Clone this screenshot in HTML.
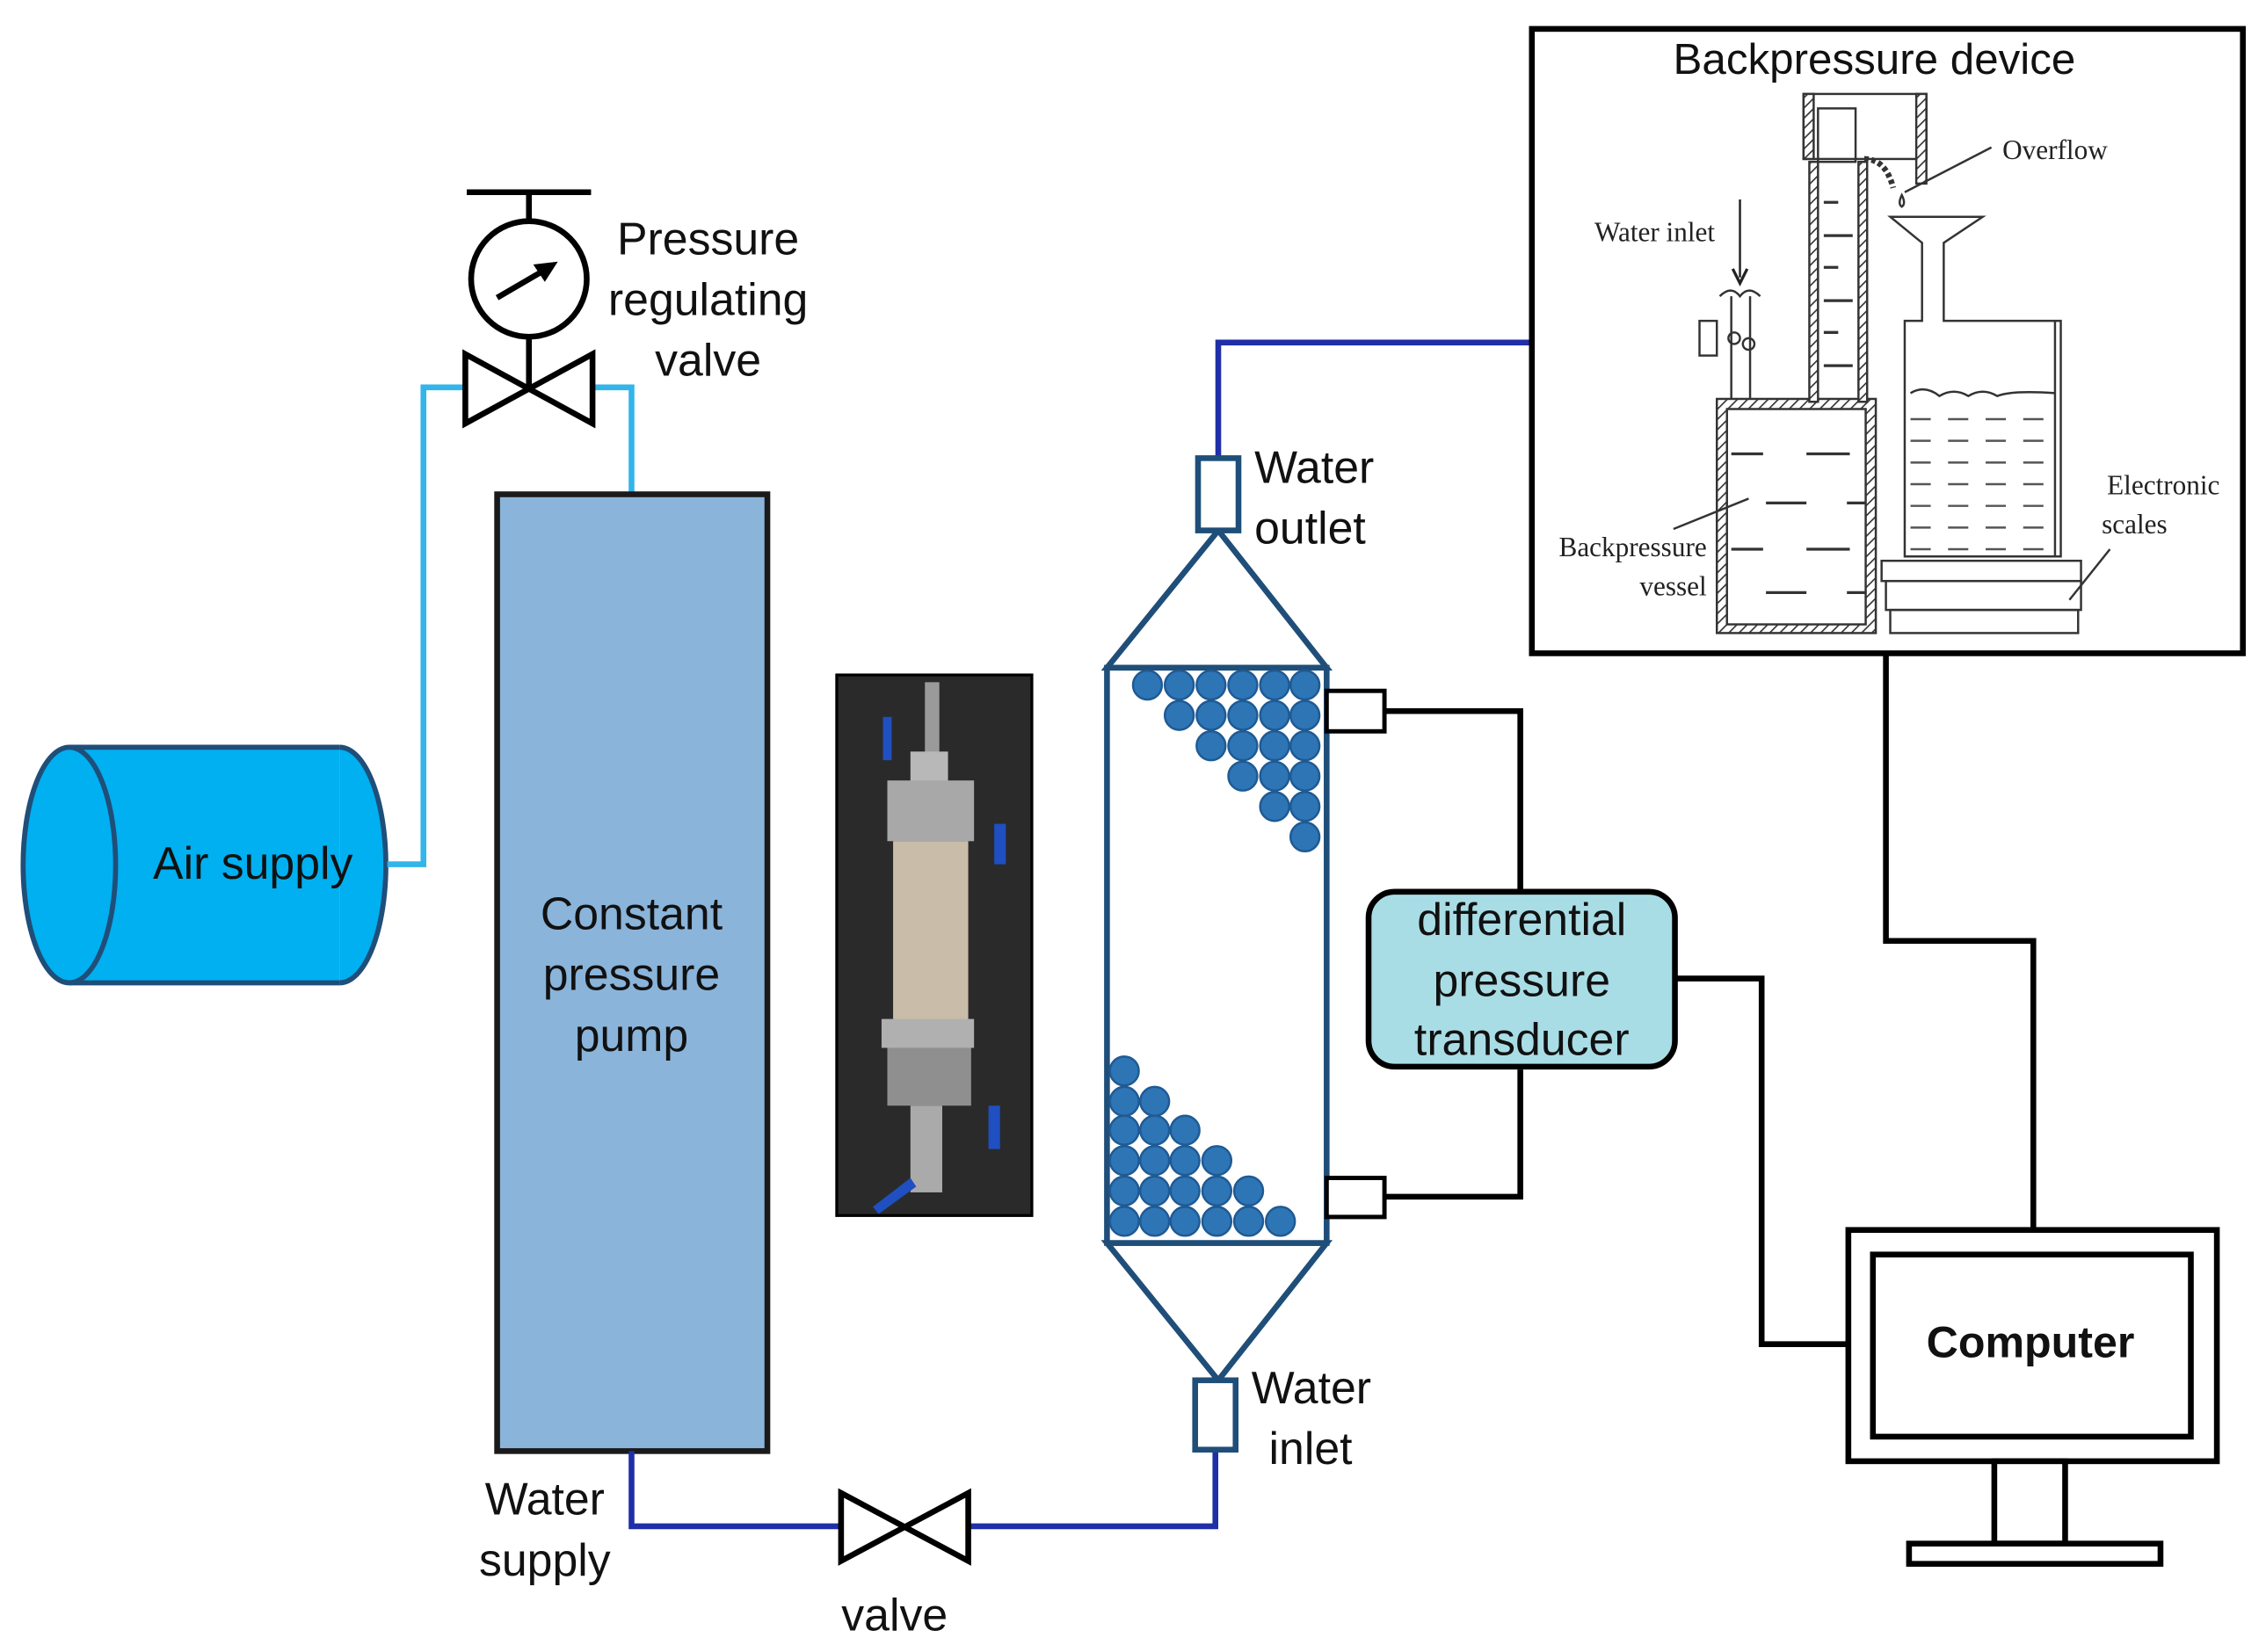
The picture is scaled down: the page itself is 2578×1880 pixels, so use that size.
<!DOCTYPE html>
<html><head><meta charset="utf-8"><style>
html,body{margin:0;padding:0;background:#fff;}
svg{display:block;}
text{font-family:"Liberation Sans",sans-serif;}
.s{font-family:"Liberation Serif",serif;font-size:19px;fill:#222;}
</style></head><body>
<svg width="2578" height="1880" viewBox="0 0 1568 1143" preserveAspectRatio="none" xmlns="http://www.w3.org/2000/svg">
<defs>
<pattern id="h" width="5" height="5" patternUnits="userSpaceOnUse" patternTransform="rotate(45)"><rect width="5" height="5" fill="#fff"/><line x1="0" y1="0" x2="0" y2="5" stroke="#333" stroke-width="2"/></pattern>
</defs>
<!-- air supply -->
<rect x="48" y="517" width="187" height="163" fill="#00b0f0"/>
<line x1="48" y1="517" x2="235" y2="517" stroke="#1f4e79" stroke-width="3.5"/>
<line x1="48" y1="680" x2="235" y2="680" stroke="#1f4e79" stroke-width="3.5"/>
<path d="M235,517 A32,81.5 0 0 1 235,680" fill="#00b0f0" stroke="#1f4e79" stroke-width="3.5"/>
<ellipse cx="48" cy="598.5" rx="32" ry="81.5" fill="#00b0f0" stroke="#1f4e79" stroke-width="3.5"/>
<text x="175" y="608" font-size="31.5" text-anchor="middle" fill="#111">Air supply</text>
<!-- light blue pipe -->
<polyline points="268,598 293,598 293,268 322,268" fill="none" stroke="#33b5ea" stroke-width="4"/>
<polyline points="410,268 437,268 437,342" fill="none" stroke="#33b5ea" stroke-width="4"/>
<path d="M322,245 L410,293 L410,245 L322,293 Z" fill="#fff" stroke="#000" stroke-width="4" stroke-linejoin="miter"/>
<line x1="366" y1="233" x2="366" y2="268" stroke="#000" stroke-width="4"/>
<circle cx="366" cy="193" r="40" fill="#fff" stroke="#000" stroke-width="4"/>
<line x1="366" y1="133" x2="366" y2="153" stroke="#000" stroke-width="4"/>
<line x1="323" y1="133" x2="409" y2="133" stroke="#000" stroke-width="4"/>
<line x1="344" y1="206" x2="380" y2="185" stroke="#000" stroke-width="4"/>
<path d="M386,181 L369,183 L377,195 Z" fill="#000"/>
<g font-size="31.5" text-anchor="middle" fill="#111">
<text x="490" y="176">Pressure</text><text x="490" y="218">regulating</text><text x="490" y="260">valve</text>
</g>
<!-- pump -->
<rect x="344" y="342" width="187" height="662" fill="#8ab4da" stroke="#1a1a1a" stroke-width="4"/>
<g font-size="31.5" text-anchor="middle" fill="#111">
<text x="437" y="643">Constant</text><text x="437" y="685">pressure</text><text x="437" y="727">pump</text>
</g>
<!-- photo -->
<rect x="579" y="467" width="135" height="374" fill="#2a2a2a" stroke="#000" stroke-width="2"/>
<rect x="640" y="472" width="10" height="60" fill="#9a9a9a"/>
<rect x="630" y="520" width="26" height="40" fill="#b8b8b8"/>
<rect x="614" y="540" width="60" height="42" fill="#a8a8a8"/>
<rect x="618" y="582" width="52" height="130" fill="#c9bca8"/>
<rect x="610" y="705" width="64" height="20" fill="#b0b0b0"/>
<rect x="614" y="725" width="58" height="40" fill="#8f8f8f"/>
<rect x="630" y="765" width="22" height="60" fill="#aaa"/>
<rect x="688" y="570" width="8" height="28" fill="#1f4fc0"/>
<rect x="684" y="765" width="8" height="30" fill="#1f4fc0"/>
<rect x="611" y="496" width="6" height="30" fill="#1f4fc0"/>
<path d="M604,835 L630,815 L634,821 L608,840Z" fill="#1f4fc0"/>
<!-- water supply pipe -->
<polyline points="437,1004 437,1056 582,1056" fill="none" stroke="#1f2fa8" stroke-width="4"/>
<polyline points="670,1056 841,1056 841,1003" fill="none" stroke="#1f2fa8" stroke-width="4"/>
<path d="M582,1033 L670,1080 L670,1033 L582,1080 Z" fill="#fff" stroke="#000" stroke-width="4"/>
<g font-size="31.5" text-anchor="middle" fill="#111">
<text x="377" y="1048">Water</text><text x="377" y="1090">supply</text><text x="619" y="1128">valve</text>
</g>
<!-- outlet pipe -->
<polyline points="843,317 843,237 1060,237" fill="none" stroke="#1f2fa8" stroke-width="4"/>
<!-- column -->
<path d="M843,367 L766,462 L918,462 Z" fill="#fff" stroke="#1f4e79" stroke-width="4"/>
<path d="M766,860 L843,955 L918,860 Z" fill="#fff" stroke="#1f4e79" stroke-width="4"/>
<rect x="766" y="462" width="152" height="398" fill="#fff" stroke="#1f4e79" stroke-width="4"/>
<rect x="829" y="317" width="28" height="50" fill="#fff" stroke="#1f4e79" stroke-width="4"/>
<rect x="827" y="955" width="28" height="48" fill="#fff" stroke="#1f4e79" stroke-width="4"/>
<g fill="#2e75b6" stroke="#1f5a93" stroke-width="1.5">
<circle cx="794" cy="474" r="10"/><circle cx="816" cy="474" r="10"/><circle cx="838" cy="474" r="10"/><circle cx="860" cy="474" r="10"/><circle cx="882" cy="474" r="10"/><circle cx="903" cy="474" r="10"/>
<circle cx="816" cy="495" r="10"/><circle cx="838" cy="495" r="10"/><circle cx="860" cy="495" r="10"/><circle cx="882" cy="495" r="10"/><circle cx="903" cy="495" r="10"/>
<circle cx="838" cy="516" r="10"/><circle cx="860" cy="516" r="10"/><circle cx="882" cy="516" r="10"/><circle cx="903" cy="516" r="10"/>
<circle cx="860" cy="537" r="10"/><circle cx="882" cy="537" r="10"/><circle cx="903" cy="537" r="10"/>
<circle cx="882" cy="558" r="10"/><circle cx="903" cy="558" r="10"/>
<circle cx="903" cy="579" r="10"/>
<circle cx="778" cy="741" r="10"/>
<circle cx="778" cy="762" r="10"/><circle cx="799" cy="762" r="10"/>
<circle cx="778" cy="782" r="10"/><circle cx="799" cy="782" r="10"/><circle cx="820" cy="782" r="10"/>
<circle cx="778" cy="803" r="10"/><circle cx="799" cy="803" r="10"/><circle cx="820" cy="803" r="10"/><circle cx="842" cy="803" r="10"/>
<circle cx="778" cy="824" r="10"/><circle cx="799" cy="824" r="10"/><circle cx="820" cy="824" r="10"/><circle cx="842" cy="824" r="10"/><circle cx="864" cy="824" r="10"/>
<circle cx="778" cy="845" r="10"/><circle cx="799" cy="845" r="10"/><circle cx="820" cy="845" r="10"/><circle cx="842" cy="845" r="10"/><circle cx="864" cy="845" r="10"/><circle cx="886" cy="845" r="10"/>
</g>
<g font-size="31.5" fill="#111">
<text x="868" y="334">Water</text><text x="868" y="376">outlet</text>
<text x="866" y="971">Water</text><text x="878" y="1013">inlet</text>
</g>
<!-- ports and DPT -->
<rect x="918" y="478" width="40" height="28" fill="#fff" stroke="#000" stroke-width="3"/>
<rect x="918" y="815" width="40" height="27" fill="#fff" stroke="#000" stroke-width="3"/>
<polyline points="958,492 1052,492 1052,617" fill="none" stroke="#000" stroke-width="4"/>
<polyline points="958,828 1052,828 1052,740" fill="none" stroke="#000" stroke-width="4"/>
<polyline points="1159,677 1219,677 1219,930 1279,930" fill="none" stroke="#000" stroke-width="4"/>
<rect x="947" y="617" width="212" height="121" rx="18" fill="#a9dde6" stroke="#000" stroke-width="4"/>
<g font-size="31.5" text-anchor="middle" fill="#111">
<text x="1053" y="647">differential</text><text x="1053" y="689">pressure</text><text x="1053" y="730">transducer</text>
</g>
<!-- computer -->
<polyline points="1305,452 1305,651 1407,651 1407,851" fill="none" stroke="#000" stroke-width="4"/>
<rect x="1279" y="851" width="255" height="160" fill="#fff" stroke="#000" stroke-width="4"/>
<rect x="1296" y="868" width="220" height="126" fill="#fff" stroke="#000" stroke-width="4"/>
<text x="1405" y="939" font-size="30.5" font-weight="bold" text-anchor="middle" fill="#111">Computer</text>
<rect x="1380" y="1011" width="49" height="57" fill="#fff" stroke="#000" stroke-width="4"/>
<rect x="1321" y="1068" width="174" height="14" fill="#fff" stroke="#000" stroke-width="4"/>
<!-- backpressure device -->
<rect x="1060" y="20" width="492" height="432" fill="#fff" stroke="#000" stroke-width="4"/>
<text x="1297" y="51" font-size="30" text-anchor="middle" fill="#111">Backpressure device</text>
<g stroke="#333" fill="none" stroke-width="1.5">
<rect x="1188" y="276" width="110" height="162" fill="url(#h)"/>
<rect x="1195" y="283" width="96" height="149" fill="#fff"/>
<rect x="1252" y="112" width="6" height="166" fill="url(#h)"/>
<rect x="1286" y="112" width="6" height="166" fill="url(#h)"/>
<rect x="1248" y="65" width="85" height="45" fill="none"/>
<rect x="1248" y="65" width="7" height="45" fill="url(#h)"/>
<rect x="1326" y="65" width="7" height="62" fill="url(#h)"/>
<rect x="1258" y="75" width="26" height="37"/>
<path d="M1290,110 Q1305,110 1310,130" stroke-width="4" stroke-dasharray="3,2"/>
<path d="M1316,135 q-3,6 0,8 q3,-2 0,-8z"/>
<line x1="1318" y1="133" x2="1378" y2="102"/>
<line x1="1198" y1="205" x2="1198" y2="276"/>
<line x1="1211" y1="205" x2="1211" y2="276"/>
<rect x="1176" y="222" width="12" height="24"/>
<circle cx="1200" cy="234" r="4"/><circle cx="1210" cy="238" r="4"/>
<path d="M1190,205 q8,-8 14,0 q6,-8 14,0"/>
<path d="M1308,150 L1372,150 L1345,168 L1345,222 L1426,222 L1426,385 L1318,385 L1318,222 L1330,222 L1330,168 Z" fill="#fff"/>
<line x1="1422" y1="222" x2="1422" y2="385"/>
<path d="M1322,272 q10,-6 20,2 q10,-6 20,0 q10,-6 20,0 q10,-4 40,-2"/>
<rect x="1302" y="388" width="138" height="14"/>
<rect x="1305" y="402" width="135" height="20"/>
<rect x="1308" y="422" width="130" height="16"/>
<line x1="1432" y1="415" x2="1460" y2="380"/>
<line x1="1158" y1="366" x2="1210" y2="345"/>
</g>
<g stroke="#333" stroke-width="2">
<line x1="1198" y1="314" x2="1220" y2="314"/><line x1="1250" y1="314" x2="1280" y2="314"/>
<line x1="1222" y1="348" x2="1250" y2="348"/><line x1="1278" y1="348" x2="1291" y2="348"/>
<line x1="1198" y1="380" x2="1220" y2="380"/><line x1="1250" y1="380" x2="1280" y2="380"/>
<line x1="1222" y1="410" x2="1250" y2="410"/><line x1="1278" y1="410" x2="1291" y2="410"/>
<line x1="1262" y1="140" x2="1272" y2="140"/><line x1="1262" y1="163" x2="1282" y2="163"/>
<line x1="1262" y1="185" x2="1272" y2="185"/><line x1="1262" y1="208" x2="1282" y2="208"/>
<line x1="1262" y1="230" x2="1272" y2="230"/><line x1="1262" y1="253" x2="1282" y2="253"/>
</g>
<g stroke="#555" stroke-width="1.5" stroke-dasharray="14,12">
<line x1="1322" y1="290" x2="1422" y2="290"/><line x1="1322" y1="305" x2="1422" y2="305"/>
<line x1="1322" y1="320" x2="1422" y2="320"/><line x1="1322" y1="335" x2="1422" y2="335"/>
<line x1="1322" y1="350" x2="1422" y2="350"/><line x1="1322" y1="365" x2="1422" y2="365"/>
<line x1="1322" y1="380" x2="1422" y2="380"/>
</g>
<line x1="1204" y1="138" x2="1204" y2="192" stroke="#222" stroke-width="1.5"/>
<path d="M1199,186 L1204,196 L1209,186" fill="none" stroke="#222" stroke-width="2"/>
<text class="s" x="1145" y="167" text-anchor="middle">Water inlet</text>
<text class="s" x="1422" y="110" text-anchor="middle">Overflow</text>
<text class="s" x="1497" y="342" text-anchor="middle">Electronic</text>
<text class="s" x="1477" y="369" text-anchor="middle">scales</text>
<text class="s" x="1181" y="385" text-anchor="end">Backpressure</text>
<text class="s" x="1181" y="412" text-anchor="end">vessel</text>
</svg>
</body></html>
